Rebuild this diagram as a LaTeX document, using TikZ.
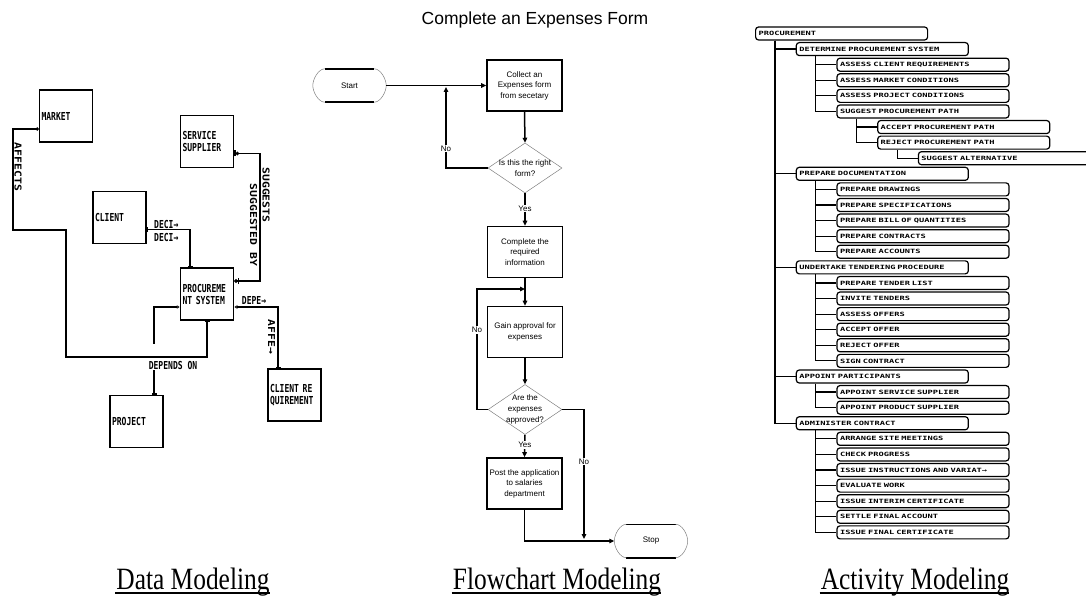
\documentclass[tikz,border=0pt]{standalone}
\usepackage{fontspec}
\setmainfont{Liberation Serif}
\newfontfamily\capfont[FakeStretch=0.82]{Liberation Serif}
\newfontfamily\flowfont{Liberation Sans}
\newfontfamily\erfont[FakeStretch=0.73]{DejaVu Sans Mono Bold}
\newfontfamily\errotfont[FakeStretch=1.2]{DejaVu Sans Mono Bold}
\newfontfamily\actfont[FakeStretch=1.5]{DejaVu Sans Mono Bold}
\usetikzlibrary{arrows.meta,shapes.geometric}

\tikzset{
	entity/.style={draw,line width=1.5pt,text width=49pt,align=left,inner xsep=2pt,
		minimum height=52pt,font=\erfont\fontsize{11}{12}\selectfont},
	erline/.style={line width=1.4pt},
	erlabel/.style={font=\erfont\fontsize{11}{12}\selectfont,inner sep=0pt},
	errot/.style={font=\errotfont\fontsize{9.5}{10}\selectfont,rotate=-90,inner sep=0pt},
	flowbox/.style={draw,line width=1.6pt,minimum width=75pt,minimum height=51pt,
		align=center,inner sep=1pt,font=\flowfont\fontsize{8}{10.5}\selectfont},
	decision/.style={diamond,draw=gray,line width=0.5pt,minimum width=74pt,minimum height=50pt,inner sep=0pt},
	terminal/.style={minimum width=73pt,minimum height=33pt,font=\flowfont\fontsize{8}{10}\selectfont},
	flowline/.style={line width=1.5pt,-{Triangle[length=5pt,width=4.5pt]}},
	flowtext/.style={font=\flowfont\fontsize{8}{10}\selectfont,fill=white,inner sep=1pt},
	actbox/.style={draw,line width=1.2pt,rounded corners=3pt,text width=166pt,inner xsep=3pt,
		inner ysep=0pt,minimum height=13pt,anchor=west,align=left,
		font=\actfont\fontsize{5.8}{6}\selectfont},
	treeline/.style={line width=1.2pt},
	caption/.style={font=\capfont\fontsize{31}{33}\selectfont,inner sep=0pt,anchor=base}
}

\begin{document}
\begin{tikzpicture}[x=1pt,y=-1pt]
	\useasboundingbox (0,0) rectangle (1086,596);

	% data modeling
	\node[entity] (market) at (66,116) {MARKET};
	\node[entity] (supplier) at (207,141.5) {SERVICE\\SUPPLIER};
	\node[entity] (client) at (119.5,217.5) {CLIENT};
	\node[entity] (proc) at (207,294) {PROCUREME\\NT SYSTEM};
	\node[entity] (project) at (136.5,421.5) {PROJECT};
	\node[entity] (creq) at (294.5,395) {CLIENT RE\\QUIREMENT};

	\draw[erline,{Circle[open,length=3pt]}-{Bar[width=5pt]}] ([yshift=-13pt]market.west) -| (13,230) -| (66,357) -| (proc.south);
	\node[errot] (affects) at (18,167) {AFFECTS};

	\coordinate (sgbend) at (260,218);
	\draw[erline,{Bar[width=6pt]Circle[length=3.5pt]}-{Bar[width=6pt]Circle[length=3.5pt]}] ([yshift=-12pt]supplier.east) -| (sgbend) |- ([yshift=13pt]proc.east);
	\node[errot] (suggests) at (266,195) {SUGGESTS};
	\node[errot] (suggby) at (253.5,225) {SUGGESTED BY};

	\draw[erline,{Bar[width=5pt]}-{Bar[width=5pt]}] ([yshift=-12pt]client.east) -| ([xshift=-17pt]proc.north);
	\node[erlabel,anchor=west] (deci1) at (154,224) {DECI→};
	\node[erlabel,anchor=west] (deci2) at (154,237) {DECI→};

	\node[erlabel] (depends) at (173,365) {DEPENDS ON};
	\coordinate (dpgap) at (154,344);
	\draw[erline,{Latex[open,length=3pt,width=4pt]}-] ([yshift=-13pt]proc.west) -| (dpgap);
	\draw[erline,-{Bar[width=5pt]}] (154,370) -- ([xshift=17.5pt]project.north);

	\draw[erline,{Latex[open,length=3pt,width=4pt]}-{Bar[width=5pt]}] ([yshift=-13pt]proc.east) -| ([xshift=-16.5pt]creq.north);
	\node[erlabel] (depe) at (254,300) {DEPE→};
	\node[errot] (affe) at (271.5,337) {AFFE→};

	% flowchart modeling
	\node[font=\flowfont\fontsize{17.5}{20}\selectfont] (title) at (535,20) {Complete an Expenses Form};
	\node[terminal] (start) at (349.5,85.5) {Start};
	\node[flowbox] (collect) at (524.5,85.5) {Collect an\\Expenses form\\from secetary};
	\node[decision,label={[align=center,font=\flowfont\fontsize{8}{10.5}\selectfont]center:{Is this the right\\form?}}] (rightform) at (525,168) {};
	\node[flowbox] (complete) at (525,252) {Complete the\\required\\information};
	\node[flowbox] (gain) at (525,332) {Gain approval for\\expenses};
	\node[decision,label={[align=center,font=\flowfont\fontsize{8}{11}\selectfont]center:{Are the\\expenses\\approved?}}] (approved) at (525,409.5) {};
	\node[flowbox] (post) at (524.5,483.5) {Post the application\\to salaries\\department};
	\node[terminal] (stop) at (651,541) {Stop};

	\foreach \t in {start,stop}{
		\draw[line width=1.6pt] ([xshift=12pt]\t.north west) -- ([xshift=-12pt]\t.north east)
			([xshift=12pt]\t.south west) -- ([xshift=-12pt]\t.south east);
		\draw[gray,line width=0.5pt] ([xshift=12pt]\t.north west) to[out=180,in=90,looseness=0.8] (\t.west)
			to[out=-90,in=180,looseness=0.8] ([xshift=12pt]\t.south west)
			([xshift=-12pt]\t.north east) to[out=0,in=90,looseness=0.8] (\t.east)
			to[out=-90,in=0,looseness=0.8] ([xshift=-12pt]\t.south east);
	}

	\coordinate (nojoin) at (446,87);
	\coordinate (noloop) at (477,289);
	\coordinate (nostop) at (584,539);
	\draw[flowline] (start.east) -- (collect.west);
	\draw[flowline] (collect.south) -- (rightform.north);
	\draw[flowline] (rightform.west) -| node[flowtext,pos=0.62] (no1) {No} (nojoin);
	\draw[flowline] (rightform.south) -- node[flowtext,pos=0.47] (yes1) {Yes} (complete.north);
	\draw[flowline] (complete.south) -- (gain.north);
	\draw[flowline] (approved.west) -| node[flowtext,pos=0.83] (no2) {No} (noloop) -- (noloop -| gain.north);
	\draw[flowline] (gain.south) -- (approved.north);
	\draw[flowline] (approved.south) -- node[flowtext,pos=0.46] (yes2) {Yes} (post.north);
	\draw[flowline] (approved.east) -| node[flowtext,pos=0.7] (no3) {No} (nostop);
	\draw[flowline] (post.south) |- (stop.west);

	% activity modeling
	\foreach \lvl/\up/\txt [count=\i from 0] in {
		0/-1/PROCUREMENT,
		1/0/DETERMINE PROCUREMENT SYSTEM,
		2/1/ASSESS CLIENT REQUIREMENTS,
		2/1/ASSESS MARKET CONDITIONS,
		2/1/ASSESS PROJECT CONDITIONS,
		2/1/SUGGEST PROCUREMENT PATH,
		3/5/ACCEPT PROCUREMENT PATH,
		3/5/REJECT PROCUREMENT PATH,
		4/7/SUGGEST ALTERNATIVE,
		1/0/PREPARE DOCUMENTATION,
		2/9/PREPARE DRAWINGS,
		2/9/PREPARE SPECIFICATIONS,
		2/9/PREPARE BILL OF QUANTITIES,
		2/9/PREPARE CONTRACTS,
		2/9/PREPARE ACCOUNTS,
		1/0/UNDERTAKE TENDERING PROCEDURE,
		2/15/PREPARE TENDER LIST,
		2/15/INVITE TENDERS,
		2/15/ASSESS OFFERS,
		2/15/ACCEPT OFFER,
		2/15/REJECT OFFER,
		2/15/SIGN CONTRACT,
		1/0/APPOINT PARTICIPANTS,
		2/22/APPOINT SERVICE SUPPLIER,
		2/22/APPOINT PRODUCT SUPPLIER,
		1/0/ADMINISTER CONTRACT,
		2/25/ARRANGE SITE MEETINGS,
		2/25/CHECK PROGRESS,
		2/25/ISSUE INSTRUCTIONS AND VARIAT→,
		2/25/EVALUATE WORK,
		2/25/ISSUE INTERIM CERTIFICATE,
		2/25/SETTLE FINAL ACCOUNT,
		2/25/ISSUE FINAL CERTIFICATE}{
		\node[actbox] (a\i) at (755+40.7*\lvl,33.5+15.59*\i) {\txt};
		\ifnum\up>-1
			\draw[treeline] ([xshift=20pt]a\up.south west) |- (a\i.west);
		\fi
	}

	% captions
	\node[caption] (datacap) at (193,589) {Data Modeling};
	\node[caption] (flowcap) at (557,589) {Flowchart Modeling};
	\node[caption] (actcap) at (915,589) {Activity Modeling};
	\foreach \c in {datacap,flowcap,actcap}
		\draw[line width=1.3pt] ([xshift=-1pt,yshift=-4pt]\c.base west) -- ([yshift=-4pt]\c.base east);
\end{tikzpicture}
\end{document}
